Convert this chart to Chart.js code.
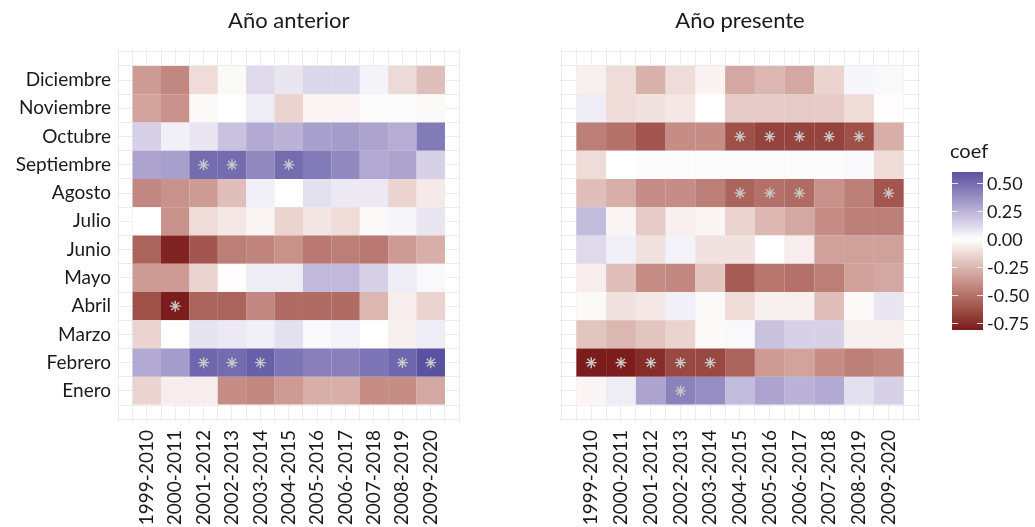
<!DOCTYPE html>
<html><head><meta charset="utf-8">
<script src="https://cdn.jsdelivr.net/npm/chart.js@4.4.0/dist/chart.umd.min.js"></script>
<style>
html,body{margin:0;padding:0;background:#fff;}
#wrap{position:relative;width:1035px;height:527px;overflow:hidden;}
canvas{position:absolute;top:0;}
</style></head><body>
<div id="wrap">
<canvas id="c1" width="490" height="527" style="left:0;width:490px;height:527px"></canvas>
<canvas id="c2" width="545" height="527" style="left:490px;width:545px;height:527px"></canvas>
</div>
<script>
// ---------- data ----------
const years = ['1999-2010','2000-2011','2001-2012','2002-2013','2003-2014','2004-2015','2005-2016','2006-2017','2007-2018','2008-2019','2009-2020'];
const months = ['Enero','Febrero','Marzo','Abril','Mayo','Junio','Julio','Agosto','Septiembre','Octubre','Noviembre','Diciembre'];

// coefficients, one row per month (Enero first), one value per period
const anteriorCoef = [
  [-0.15,-0.06,-0.06,-0.40,-0.42,-0.35,-0.28,-0.28,-0.40,-0.40,-0.30],
  [ 0.28, 0.33, 0.52, 0.50, 0.55, 0.47, 0.43, 0.43, 0.47, 0.52, 0.60],
  [-0.15, 0.00, 0.09, 0.07, 0.05, 0.10, 0.02, 0.04, 0.00,-0.05, 0.06],
  [-0.62,-0.80,-0.55,-0.55,-0.42,-0.52,-0.52,-0.52,-0.25,-0.06,-0.15],
  [-0.35,-0.35,-0.15,-0.01, 0.06, 0.06, 0.23, 0.23, 0.15, 0.06, 0.02],
  [-0.55,-0.78,-0.60,-0.45,-0.43,-0.38,-0.47,-0.45,-0.47,-0.35,-0.28],
  [ 0.00,-0.38,-0.12,-0.08,-0.03,-0.15,-0.09,-0.12,-0.02, 0.03, 0.08],
  [-0.42,-0.38,-0.35,-0.22, 0.05, 0.00, 0.10, 0.07, 0.07,-0.15,-0.07],
  [ 0.30, 0.32, 0.50, 0.50, 0.40, 0.50, 0.45, 0.40, 0.28, 0.30, 0.15],
  [ 0.15, 0.05, 0.08, 0.20, 0.28, 0.25, 0.32, 0.33, 0.30, 0.27, 0.45],
  [-0.32,-0.38,-0.02, 0.00, 0.06,-0.15,-0.03,-0.03, 0.01, 0.01,-0.02],
  [-0.35,-0.42,-0.12,-0.02, 0.12, 0.08, 0.13, 0.13, 0.04,-0.13,-0.22]
];
const presenteCoef = [
  [-0.03, 0.06, 0.30, 0.42, 0.38, 0.22, 0.30, 0.25, 0.28, 0.10, 0.15],
  [-0.80,-0.80,-0.75,-0.65,-0.65,-0.55,-0.35,-0.32,-0.40,-0.45,-0.42],
  [-0.20,-0.25,-0.20,-0.15,-0.02, 0.02, 0.20, 0.15, 0.15,-0.05,-0.05],
  [-0.02,-0.10,-0.08, 0.05,-0.02,-0.12,-0.05,-0.05,-0.22,-0.02, 0.08],
  [-0.06,-0.22,-0.40,-0.42,-0.20,-0.58,-0.48,-0.50,-0.45,-0.33,-0.30],
  [ 0.12, 0.05,-0.10, 0.04,-0.10,-0.10, 0.00,-0.06,-0.33,-0.33,-0.33],
  [ 0.22,-0.03,-0.18,-0.05,-0.03,-0.15,-0.25,-0.30,-0.40,-0.45,-0.45],
  [-0.22,-0.28,-0.40,-0.40,-0.45,-0.55,-0.50,-0.52,-0.38,-0.45,-0.60],
  [-0.12, 0.00, 0.01, 0.01, 0.01, 0.01, 0.01, 0.01, 0.01, 0.02,-0.12],
  [-0.45,-0.50,-0.60,-0.40,-0.40,-0.62,-0.67,-0.67,-0.67,-0.62,-0.28],
  [ 0.06,-0.12,-0.10,-0.08, 0.00,-0.18,-0.18,-0.18,-0.18,-0.12,-0.01],
  [-0.05,-0.12,-0.27,-0.12,-0.04,-0.30,-0.25,-0.30,-0.15, 0.03, 0.02]
];

// significant cells: [period index, month index]
const anteriorSig = [[2,8],[3,8],[5,8],[1,3],[2,1],[3,1],[4,1],[9,1],[10,1]];
const presenteSig = [[5,9],[6,9],[7,9],[8,9],[9,9],[5,7],[6,7],[7,7],[10,7],[0,1],[1,1],[2,1],[3,1],[4,1],[3,0]];

const legendBreaks = [0.50, 0.25, 0.00, -0.25, -0.50, -0.75];
const legendLimits = [-0.81, 0.60];

// ---------- colour scale (Lab interpolation through white) ----------
const lowColor = [122, 25, 27];
const highColor = [88, 82, 160];
function s2l(c){c/=255;return c<=0.04045?c/12.92:Math.pow((c+0.055)/1.055,2.4);}
function l2s(c){const v=c<=0.0031308?12.92*c:1.055*Math.pow(c,1/2.4)-0.055;return Math.round(Math.max(0,Math.min(1,v))*255);}
function rgb2lab(rgb){
  const r=s2l(rgb[0]),g=s2l(rgb[1]),b=s2l(rgb[2]);
  let X=(0.4124*r+0.3576*g+0.1805*b)/0.95047, Y=(0.2126*r+0.7152*g+0.0722*b), Z=(0.0193*r+0.1192*g+0.9505*b)/1.08883;
  const f=t=>t>0.008856?Math.cbrt(t):(7.787*t+16/116);
  const fx=f(X),fy=f(Y),fz=f(Z);
  return [116*fy-16,500*(fx-fy),200*(fy-fz)];
}
function lab2rgb(lab){
  const fy=(lab[0]+16)/116, fx=fy+lab[1]/500, fz=fy-lab[2]/200;
  const fi=t=>t*t*t>0.008856?t*t*t:(t-16/116)/7.787;
  const X=fi(fx)*0.95047, Y=fi(fy), Z=fi(fz)*1.08883;
  const r=3.2406*X-1.5372*Y-0.4986*Z, g=-0.9689*X+1.8758*Y+0.0415*Z, b=0.0557*X-0.2040*Y+1.0570*Z;
  return [l2s(r),l2s(g),l2s(b)];
}
const labWhite=rgb2lab([255,255,255]), labLow=rgb2lab(lowColor), labHigh=rgb2lab(highColor);
function colorFor(v){
  let t, end;
  if(v<0){t=Math.min(1,v/legendLimits[0]);end=labLow;} else {t=Math.min(1,v/legendLimits[1]);end=labHigh;}
  const lab=[0,1,2].map(i=>labWhite[i]+(end[i]-labWhite[i])*t);
  const c=lab2rgb(lab);
  return `rgb(${c[0]},${c[1]},${c[2]})`;
}

// ---------- helpers ----------
const FONT = 'Lato, "Open Sans", sans-serif';
const titlePlugin = {
  id:'panelTitle',
  afterDraw(chart, args, opts){
    const ctx=chart.ctx, a=chart.chartArea;
    ctx.save();
    ctx.font=`22px ${FONT}`;
    ctx.fillStyle='#1a1a1a';
    ctx.textAlign='center';
    ctx.textBaseline='alphabetic';
    ctx.fillText(opts.text,(a.left+a.right)/2,28);
    ctx.restore();
  }
};
const legendPlugin = {
  id:'colorbar',
  afterDraw(chart, args, opts){
    if(!opts.show) return;
    const ctx=chart.ctx;
    const x0=opts.x, w=31, yTop=172, yBot=330;
    const [lo,hi]=legendLimits;
    const yOf=v=>yBot-(v-lo)/(hi-lo)*(yBot-yTop);
    ctx.save();
    const g=ctx.createLinearGradient(0,yTop,0,yBot);
    for(let i=0;i<=60;i++){const v=hi-(hi-lo)*i/60;g.addColorStop(i/60,colorFor(v));}
    ctx.fillStyle=g;
    ctx.fillRect(x0,yTop,w,yBot-yTop);
    ctx.strokeStyle='rgba(255,255,255,0.8)';
    ctx.lineWidth=1;
    ctx.font=`18px ${FONT}`;
    ctx.fillStyle='#1a1a1a';
    ctx.textAlign='left';
    ctx.textBaseline='middle';
    legendBreaks.forEach(v=>{
      const y=Math.round(yOf(v))+0.5;
      ctx.beginPath();ctx.moveTo(x0,y);ctx.lineTo(x0+6,y);ctx.moveTo(x0+w-6,y);ctx.lineTo(x0+w,y);ctx.stroke();
      ctx.fillText(v.toFixed(2),x0+w+4,y+1);
    });
    ctx.font=`20px ${FONT}`;
    ctx.textBaseline='alphabetic';
    ctx.fillText('coef',x0-2,158);
    ctx.restore();
  }
};

function halfTicks(from,to){const t=[];for(let v=from;v<=to+1e-9;v+=0.5)t.push({value:Math.round(v*2)/2});return t;}

function makeChart(id, coef, sig, cfg){
  const datasets=[{
    type:'scatter',
    order:-1,
    data:sig.map(([yi,mi])=>({x:yi+0.5,y:mi+0.5})),
    pointStyle:'star',
    pointRadius:5.5,
    pointBorderColor:'#c8c8c8',
    pointBackgroundColor:'rgba(0,0,0,0)',
    pointBorderWidth:1.4
  }];
  coef.forEach((row,k)=>{
    datasets.push({
      type:'bar',
      data:row.map((v,i)=>({x:i+0.5,y:[k,k+1]})),
      backgroundColor:row.map(colorFor),
      borderWidth:0,
      barPercentage:2,   // grid ticks sit every half unit, so one cell = two tick spacings
      categoryPercentage:1,
      grouped:false
    });
  });
  return new Chart(document.getElementById(id),{
    type:'bar',
    data:{datasets},
    plugins:[titlePlugin,legendPlugin],
    options:{
      responsive:false,
      animation:false,
      events:[],
      devicePixelRatio:1,
      layout:{padding:{top:49,right:cfg.padRight,left:0,bottom:0}},
      plugins:{
        legend:{display:false},
        tooltip:{enabled:false},
        panelTitle:{text:cfg.title},
        colorbar:{show:cfg.legend,x:cfg.legendX}
      },
      scales:{
        x:{
          type:'linear',
          min:-0.55,max:11.55,
          offset:false,
          grid:{color:'#ececec',lineWidth:1,drawTicks:false,offset:false},
          border:{display:false},
          afterBuildTicks:s=>{s.ticks=halfTicks(-0.5,11.5);},
          afterFit:s=>{s.height=105;},
          ticks:{
            autoSkip:false,minRotation:90,maxRotation:90,padding:8,
            color:'#1a1a1a',font:{family:FONT,size:19},
            callback:v=>{const i=v-0.5;return (Number.isInteger(i)&&i>=0&&i<years.length)?years[i]:'';}
          }
        },
        y:{
          type:'linear',
          min:-0.6,max:12.6,
          grid:{color:'#ececec',lineWidth:1,drawTicks:false},
          border:{display:false},
          afterBuildTicks:s=>{s.ticks=halfTicks(-0.5,12.5);},
          afterFit:s=>{s.width=cfg.yWidth;},
          ticks:{
            autoSkip:false,padding:6,display:cfg.showY,
            color:'#1a1a1a',font:{family:FONT,size:19},
            callback:v=>{const i=v-0.5;return (Number.isInteger(i)&&i>=0&&i<months.length)?months[i]:'';}
          }
        }
      }
    }
  });
}

makeChart('c1',anteriorCoef,anteriorSig,{title:'Año anterior',padRight:13,yWidth:117,showY:true,legend:false});
makeChart('c2',presenteCoef,presenteSig,{title:'Año presente',padRight:115,yWidth:70,showY:false,legend:true,legendX:462});
</script>
</body></html>
